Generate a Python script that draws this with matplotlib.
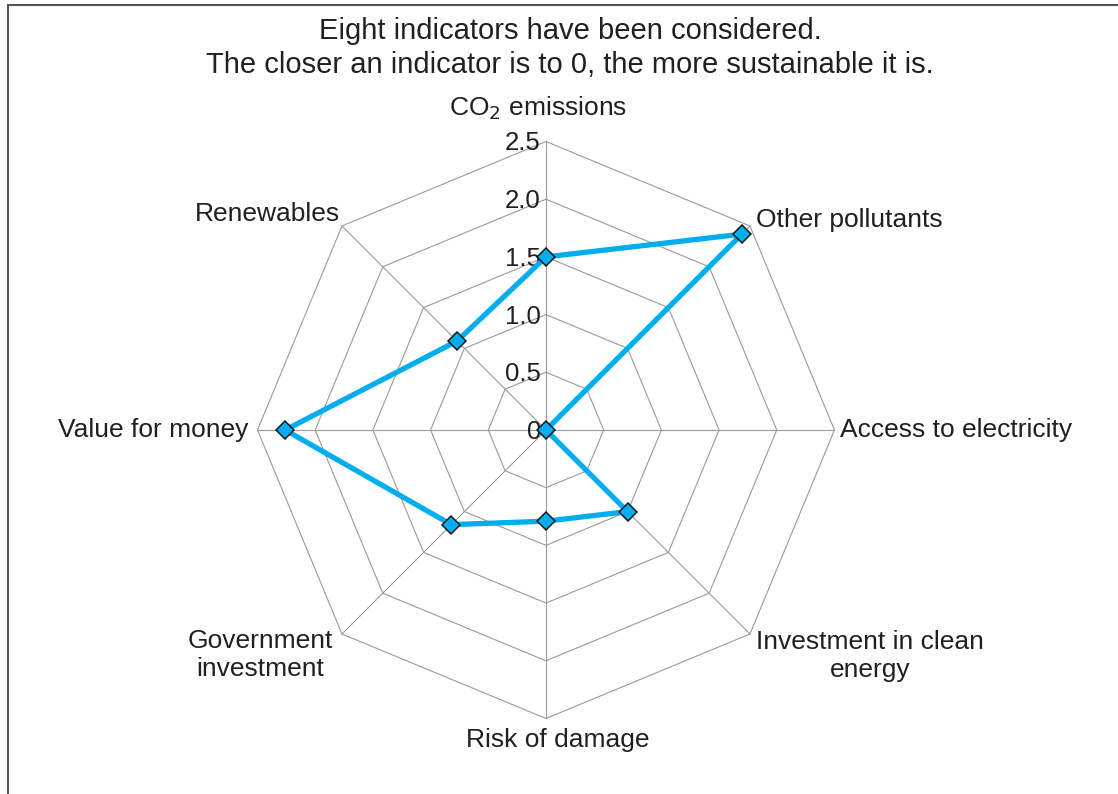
import numpy as np
import matplotlib
matplotlib.use("Agg")
from matplotlib import pyplot as plt
from matplotlib.patches import Rectangle
from matplotlib.transforms import offset_copy

plt.rcParams['font.family'] = ['Liberation Sans', 'DejaVu Sans']

categories = ['CO$_2$ emissions', 'Other pollutants', 'Access to electricity',
              'Investment in clean\nenergy', 'Risk of damage', 'Government\ninvestment',
              'Value for money', 'Renewables']
values = [1.5, 2.4, 0.0, 1.0, 0.79, 1.16, 2.26, 1.09]
ring_levels = [0.5, 1.0, 1.5, 2.0, 2.5]
tick_labels = ['0', '0.5', '1.0', '1.5', '2.0', '2.5']
tick_values = [0, 0.5, 1.0, 1.5, 2.0, 2.5]

# label placement: alignment + pixel offsets from the outer vertex
label_pos = [('center', 'center', -8, 33), ('left', 'center', 6, 6), ('left', 'center', 6, 0),
             ('center', 'center', 120, -22), ('center', 'center', 12, -22),
             ('center', 'center', -82, -21), ('right', 'center', -9, 0), ('right', 'center', -2, 12)]

text_col = '#231f20'
line_col = '#00aeef'
grid_col = '#9a9a9a'

W, H = 1118, 794
fig = plt.figure(figsize=(W / 100, H / 100), dpi=100)
fig.patch.set_facecolor('white')

# frame around the figure (cut off on the right and bottom)
fig.patches.append(Rectangle((8 / W, -0.1), 1.2, 1 - 5 / H + 0.1, transform=fig.transFigure,
                             fill=False, edgecolor='#555555', linewidth=1.5))

ax = fig.add_axes([0.2303, 0.0951, 0.5161, 0.7267], projection='polar')
ax.set_theta_zero_location('N')
ax.set_theta_direction(-1)
ax.set_ylim(0, 2.5)
ax.grid(False)
ax.spines['polar'].set_visible(False)
ax.set_xticks([])
ax.set_yticks([])
ax.patch.set_alpha(0)

n = len(categories)
angles = np.arange(n) * 2 * np.pi / n
closed = np.append(angles, angles[0])

for r in ring_levels:
    ax.plot(closed, [r] * (n + 1), color=grid_col, lw=0.8, zorder=1, clip_on=False)
for a in angles:
    ax.plot([a, a], [0, 2.5], color=grid_col, lw=0.8, zorder=1, clip_on=False)

ax.plot(np.append(angles, angles[0]), values + [values[0]], color=line_col, lw=3.8,
        zorder=3, clip_on=False, solid_joinstyle='round')
ax.plot(angles, values, linestyle='none', marker='D', ms=9, mfc=line_col, mec='#1a1a1a',
        mew=1.1, zorder=4, clip_on=False)

for tv, tl in zip(tick_values, tick_labels):
    tr = offset_copy(ax.transData, fig=fig, x=-5, y=-2, units='dots')
    ax.text(0, tv, tl, transform=tr, ha='right', va='center', fontsize=18.5, color=text_col, zorder=2)

for a, lab, (ha, va, dx, dy) in zip(angles, categories, label_pos):
    tr = offset_copy(ax.transData, fig=fig, x=dx, y=dy, units='dots')
    ax.text(a, 2.5, lab, transform=tr, ha=ha, va=va, fontsize=19, color=text_col,
            multialignment='center', linespacing=1.2)

fig.text(570 / W, 1 - 48 / H,
         'Eight indicators have been considered.\nThe closer an indicator is to 0, the more sustainable it is.',
         ha='center', va='center', fontsize=21, color=text_col, linespacing=1.28)

fig.savefig('out.png', dpi=100)
